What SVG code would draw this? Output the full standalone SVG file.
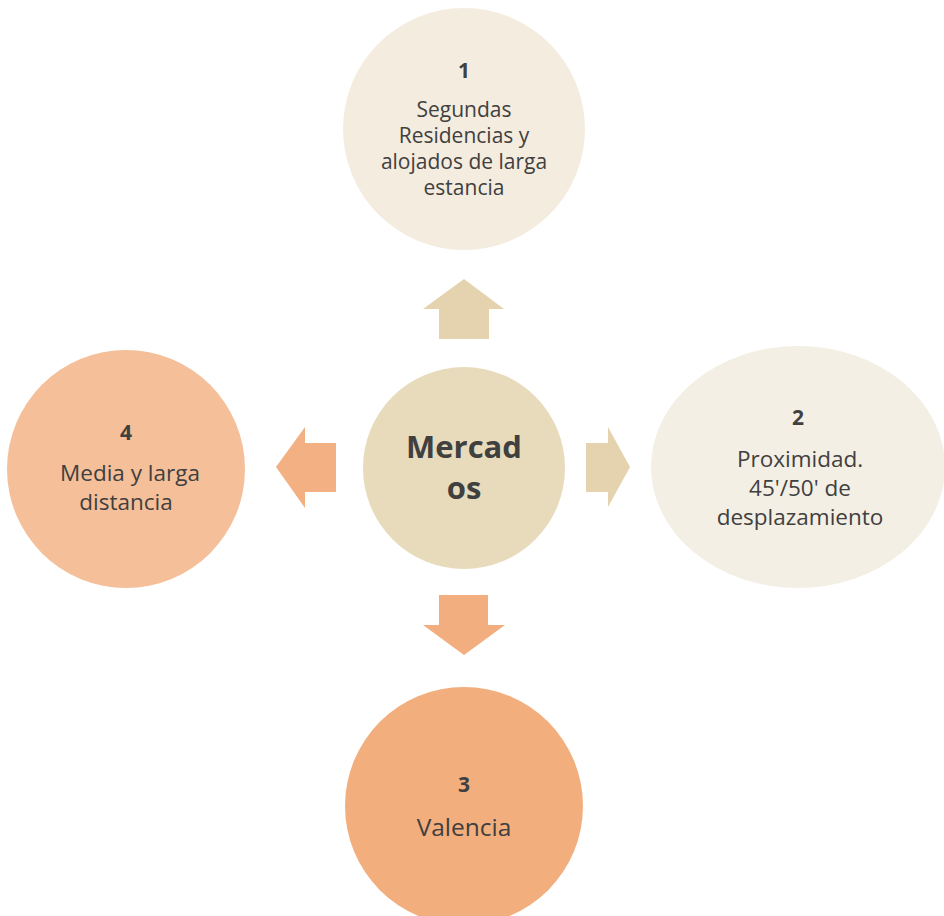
<svg xmlns="http://www.w3.org/2000/svg" width="944" height="916" viewBox="0 0 944 916">
<style>
text{font-family:"Open Sans","Liberation Sans",sans-serif;fill:#404040;text-anchor:middle}
.n{font-weight:bold;font-size:21px}
.t{font-size:21px}
.l{font-size:22.5px}
.v{font-size:24.5px}
.m{font-weight:bold;font-size:31px}
</style>
<rect width="944" height="916" fill="#ffffff"/>
<g id="connectors">
<polygon fill="#E4D3AE" points="464,279 504,309 489,309 489,339 439,339 439,309 423,309"/>
<polygon fill="#E4D3AE" points="630,467 608,427 608,443 586,443 586,492 608,492 608,507"/>
<polygon fill="#F2AE7E" points="464,655 505,625 488,625 488,595 439,595 439,625 423,625"/>
<polygon fill="#F2B083" points="276,467 305,427 305,443 336,443 336,492 305,492 305,508"/>
</g>
<g id="node-1">
<circle cx="464" cy="129" r="121" fill="#F4ECDF"/>
<text class="n" x="464" y="78">1</text>
<text class="t" x="464" y="117">Segundas</text>
<text class="t" x="464" y="143">Residencias y</text>
<text class="t" x="464" y="169">alojados de larga</text>
<text class="t" x="464" y="195">estancia</text>
</g>
<g id="node-center">
<circle cx="464" cy="468" r="101" fill="#E8DBBC"/>
<text class="m" x="464" y="458">Mercad</text>
<text class="m" x="464" y="499">os</text>
</g>
<g id="node-2">
<ellipse cx="798" cy="467" rx="147" ry="121" fill="#F4EFE4"/>
<text class="n" x="798" y="425">2</text>
<text class="l" x="800" y="467">Proximidad.</text>
<text class="l" x="800" y="496">45'/50' de</text>
<text class="l" x="800" y="525">desplazamiento</text>
</g>
<g id="node-4">
<circle cx="126" cy="469" r="119" fill="#F5BF99"/>
<text class="n" x="126" y="440">4</text>
<text class="l" x="130" y="481">Media y larga</text>
<text class="l" x="126" y="510">distancia</text>
</g>
<g id="node-3">
<circle cx="464" cy="806" r="119" fill="#F2AE7D"/>
<text class="n" x="464" y="792">3</text>
<text class="v" x="464" y="836">Valencia</text>
</g>
</svg>
